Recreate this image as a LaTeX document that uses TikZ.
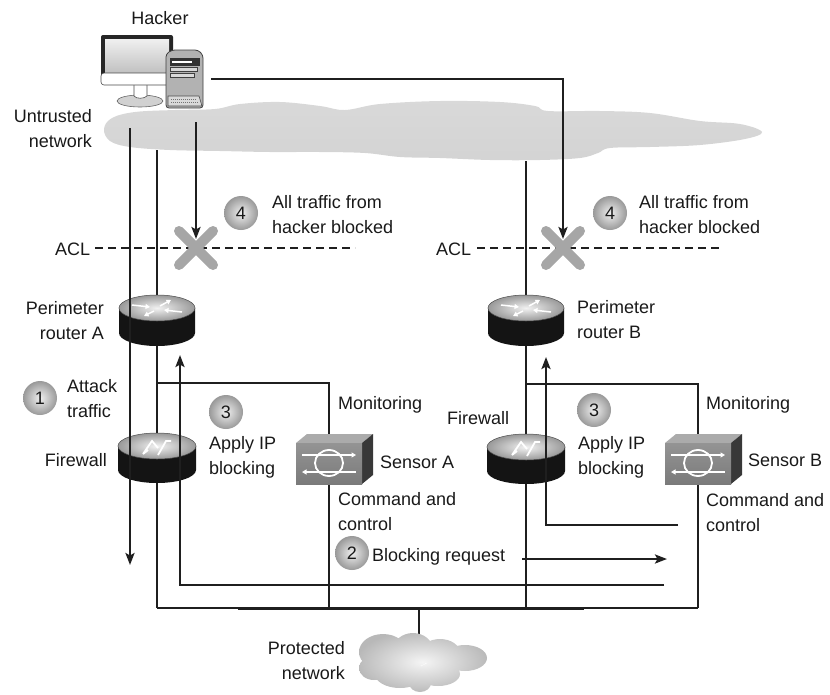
\documentclass[tikz,border=0pt]{standalone}
\usepackage{fontspec}
\setmainfont{Liberation Sans}
\usetikzlibrary{arrows.meta}
\begin{document}
\begin{tikzpicture}[x=1pt,y=-1pt,
  font=\fontsize{18}{24.5}\selectfont,
  wire/.style={line width=2.6pt, draw=black!88},
  flow/.style={wire, -{Stealth[length=12pt,width=9pt,inset=2.5pt]}},
  lbl/.style={inner sep=0pt, align=left, text=black!90},
  lblr/.style={inner sep=0pt, align=right, text=black!90},
  stepnum/.style={circle, minimum size=34pt, inner sep=0pt, inner color=black!6, outer color=black!40, text=black!90},
  blockx/.style={line width=10pt, line cap=round, draw=black!35},
  acl/.style={line width=2.3pt, draw=black!88, dash pattern=on 8pt off 5pt},
  whitetip/.style={white, line width=1.5pt, -{Triangle[length=4.5pt,width=5pt]}},
  routericon/.pic={
    \fill[black!92] (-38,0) -- (-38,25) arc[start angle=180, end angle=0, x radius=38, y radius=13] -- (38,0) -- cycle;
    \shadedraw[inner color=black!5, outer color=black!40, draw=black!70, line width=0.5pt] (0,0) ellipse[x radius=38, y radius=13];
    \draw[whitetip] (-25,-3) -- (-7,-1);
    \draw[whitetip] (25,4) -- (7,2);
    \draw[whitetip] (3,-2) -- (14,-8);
    \draw[whitetip] (-3,3) -- (-13,8);
  },
  firewallicon/.pic={
    \fill[black!92] (-39,0) -- (-39,24) arc[start angle=180, end angle=0, x radius=39, y radius=13] -- (39,0) -- cycle;
    \shadedraw[inner color=black!5, outer color=black!40, draw=black!70, line width=0.5pt] (0,0) ellipse[x radius=39, y radius=13];
    \draw[white, line width=1.8pt, line join=miter] (-14,8) -- (-5,-5) -- (1,2) (-14,8) -- (-9,4);
    \draw[white, line width=1.8pt, line join=miter] (1,9) -- (9,-5) -- (14,-5);
  },
  sensoricon/.pic={
    \fill[black!33] (-33,-20) -- (-22,-29) -- (44,-29) -- (33,-20) -- cycle;
    \fill[black!78] (33,-20) -- (44,-29) -- (44,12) -- (33,21) -- cycle;
    \shade[top color=black!42, bottom color=black!52] (-33,-20) rectangle (33,21);
    \draw[white, line width=1.8pt] (0,0) ellipse[x radius=14, y radius=13];
    \draw[whitetip, line width=1.2pt] (-27,-8) -- (27,-8);
    \draw[whitetip, line width=1.2pt] (27,9) -- (-27,9);
  },
]
\useasboundingbox (0,0) rectangle (830,694);

% ---------- untrusted network cloud ----------
\shade[top color=black!15, middle color=black!4, bottom color=black!17]
  plot[smooth cycle, tension=0.6] coordinates {
    (104,129) (112,118) (135,112) (175,110) (215,109) (240,104) (280,102)
    (320,106) (345,110) (380,104) (440,101) (500,102) (535,106) (548,111)
    (600,111) (650,113) (700,121) (740,124) (762,132) (745,139) (700,145)
    (650,147) (610,148) (598,153) (580,158) (540,160) (490,160) (440,158)
    (400,157) (365,153) (320,152) (270,152) (220,151) (170,150) (130,147)
    (110,141)};

% ---------- named points ----------
\coordinate (hackOut) at (211,79);
\coordinate (hackDrop) at (196,122);
\coordinate (tipA) at (196,239);
\coordinate (tipB) at (563,239);
\coordinate (xA) at (196,248);
\coordinate (xB) at (563,248);
\coordinate (atkTop) at (130,128);
\coordinate (atkEnd) at (130,565);
\coordinate (colATop) at (157,150);
\coordinate (colBTop) at (526,161);
\coordinate (monA) at (157,383);
\coordinate (monB) at (526,384);
\coordinate (frameL) at (157,608);
\coordinate (frameR) at (698,608);
\coordinate (frameSA) at (329,608);
\coordinate (frameFB) at (526,608);
\coordinate (heavyL) at (238,608);
\coordinate (heavyR) at (584,608);
\coordinate (netTap) at (419,608);
\coordinate (pnet) at (419,642);
\coordinate (ipA) at (180,355);
\coordinate (ipAEnd) at (664,585);
\coordinate (ipB) at (546,357);
\coordinate (ipBEnd) at (678,525);
\coordinate (reqStart) at (522,559);
\coordinate (reqEnd) at (667,559);
\coordinate (aclAL) at (95,248);
\coordinate (aclAR) at (355,248);
\coordinate (aclBL) at (477,248);
\coordinate (aclBR) at (722,248);
\coordinate (rA) at (157,308);
\coordinate (rB) at (526,308);
\coordinate (fA) at (157,446);
\coordinate (fB) at (526,447);
\coordinate (sA) at (329,463);
\coordinate (sB) at (698,463);

% ---------- backbone wiring (behind the devices) ----------
\draw[wire] (colATop) -- (frameL);
\draw[wire] (colBTop) -- (frameFB);
\draw[wire] (monA) -| (frameSA);
\draw[wire] (monB) -| (frameR);
\draw[wire] (frameL) -- (frameR);
\draw[line width=3pt, draw=black!88] (heavyL) -- (heavyR);
\draw[wire] (netTap) -- (pnet);

% ---------- protected network cloud ----------
\begin{scope}
  \clip (383,652) ellipse[x radius=24, y radius=18]
        (413,650) ellipse[x radius=20, y radius=17]
        (440,653) ellipse[x radius=20, y radius=14]
        (465,658) ellipse[x radius=22, y radius=13]
        (400,674) ellipse[x radius=25, y radius=14]
        (438,674) ellipse[x radius=22, y radius=12]
        (420,683) ellipse[x radius=11, y radius=9]
        (374,668) ellipse[x radius=15, y radius=12];
  \shade[inner color=black!4, outer color=black!28] (355,630) rectangle (490,694);
\end{scope}

% ---------- hacker workstation ----------
\filldraw[fill=black!18, draw=black!60, line width=0.6pt] (140,101) ellipse[x radius=23, y radius=6];
\filldraw[fill=white, draw=black!70, line width=0.6pt] (134,83) -- (134,96) .. controls (136,99) and (144,99) .. (147,96) -- (147,83);
\fill[black!85, rounded corners=2pt] (101,35) rectangle (173,80);
\shade[top color=black!6, bottom color=black!24] (105,39) rectangle (169,72);
\filldraw[fill=white, draw=black!70, line width=0.6pt, rounded corners=3pt] (101,73) -- (101,85) -- (173,85) -- (173,73) -- cycle;
\filldraw[fill=black!30, draw=black!75, line width=0.8pt, rounded corners=3pt]
  (166,108) -- (166,54) -- (172,50) -- (198,50) -- (203,55) -- (203,108) -- cycle;
\filldraw[fill=black!80, draw=black!80] (170,58) rectangle (199,65);
\fill[white] (172,60.5) rectangle (192,62.5);
\filldraw[fill=black!15, draw=black!75, line width=0.6pt] (170,67) rectangle (197,71);
\filldraw[fill=black!15, draw=black!75, line width=0.6pt] (170,73) rectangle (194,77);
\filldraw[fill=black!15, draw=black!70, line width=0.6pt] (168,96) -- (199,96) -- (202,106) -- (168,106) -- cycle;
\draw[black!55, line width=0.6pt, dash pattern=on 1pt off 1pt] (171,99.5) -- (197,99.5) (171,102.5) -- (198,102.5);

% ---------- devices ----------
\pic at (rA) {routericon};
\pic at (rB) {routericon};
\pic at (fA) {firewallicon};
\pic at (fB) {firewallicon};
\pic at (sA) {sensoricon};
\pic at (sB) {sensoricon};

% ---------- traffic and control flows ----------
\draw[flow] (atkTop) -- (atkEnd);
\draw[flow] (ipAEnd) -| (ipA);
\draw[flow] (ipBEnd) -| (ipB);
\draw[flow] (reqStart) -- (reqEnd);

% ---------- ACLs and blocked traffic ----------
\draw[acl] (aclAL) -- (aclAR);
\draw[acl] (aclBL) -- (aclBR);
\draw[blockx] ([shift={(-17,-17)}]xA) -- ([shift={(17,17)}]xA);
\draw[blockx] ([shift={(-17,17)}]xA) -- ([shift={(17,-17)}]xA);
\draw[blockx] ([shift={(-17,-17)}]xB) -- ([shift={(17,17)}]xB);
\draw[blockx] ([shift={(-17,17)}]xB) -- ([shift={(17,-17)}]xB);
\draw[flow] (hackDrop) -- (tipA);
\draw[flow] (hackOut) -| (tipB);

% ---------- step markers ----------
\node[stepnum] (n4a) at (241,213) {4};
\node[stepnum] (n4b) at (610,213) {4};
\node[stepnum] (n1) at (40,398) {1};
\node[stepnum] (n3a) at (226,412) {3};
\node[stepnum] (n3b) at (594,410) {3};
\node[stepnum] (n2) at (352,553) {2};

% ---------- labels ----------
\node[lbl, anchor=base] (tHacker) at (160,24) {Hacker};
\node[lblr, anchor=north east] (tUntrusted) at (92,109.5) {Untrusted\\network};
\node[lbl, anchor=north west] (tBlockA) at (272,195.5) {All traffic from\\hacker blocked};
\node[lbl, anchor=north west] (tBlockB) at (639,195.5) {All traffic from\\hacker blocked};
\node[lbl, anchor=west] (tAclA) at (55,249) {ACL};
\node[lbl, anchor=west] (tAclB) at (436,249) {ACL};
\node[lblr, anchor=north east] (tRouterA) at (104,301.5) {Perimeter\\router A};
\node[lbl, anchor=north west] (tRouterB) at (577,300.5) {Perimeter\\router B};
\node[lbl, anchor=north west] (tAttack) at (67,379.5) {Attack\\traffic};
\node[lbl, anchor=north west] (tApplyA) at (209,436.5) {Apply IP\\blocking};
\node[lbl, anchor=north west] (tApplyB) at (578,436.5) {Apply IP\\blocking};
\node[lbl, anchor=east] (tFwA) at (107,460) {Firewall};
\node[lbl, anchor=west] (tFwB) at (447,418) {Firewall};
\node[lbl, anchor=north west] (tMonA) at (338,396.5) {Monitoring};
\node[lbl, anchor=north west] (tMonB) at (706,396.5) {Monitoring};
\node[lbl, anchor=west] (tSensA) at (380,462) {Sensor A};
\node[lbl, anchor=west] (tSensB) at (748,460) {Sensor B};
\node[lbl, anchor=north west] (tCmdA) at (338,492.5) {Command and\\control};
\node[lbl, anchor=north west] (tCmdB) at (706,493.5) {Command and\\control};
\node[lbl, anchor=north west] (tReq) at (372,548.5) {Blocking request};
\node[lblr, anchor=north east] (tProt) at (345,641.5) {Protected\\network};
\end{tikzpicture}
\end{document}
